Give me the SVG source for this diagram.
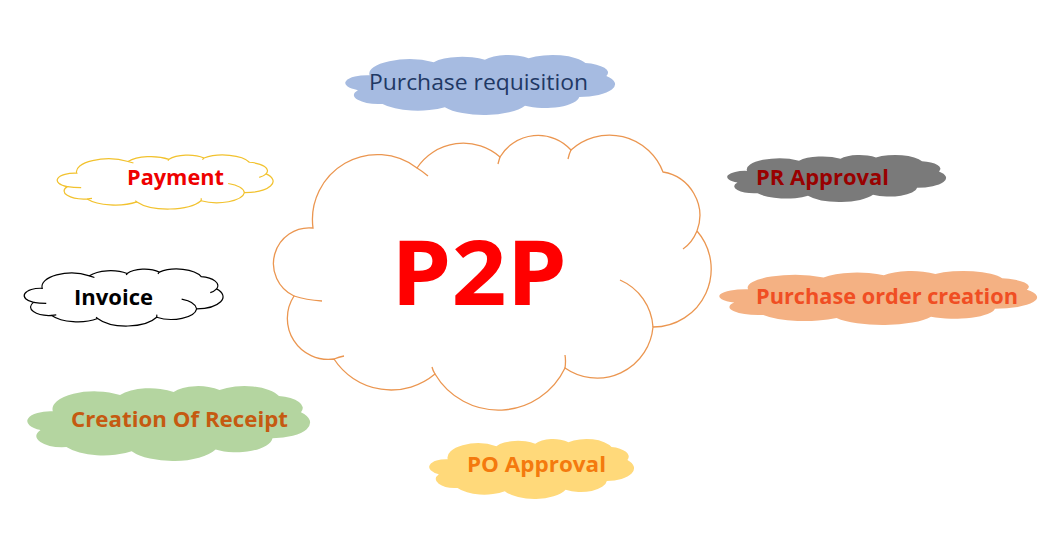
<svg xmlns="http://www.w3.org/2000/svg" xmlns:xlink="http://www.w3.org/1999/xlink" width="1048" height="548" viewBox="0 0 1048 548">
<style>
.lbl{font-family:"Open Sans","Liberation Sans",sans-serif;font-weight:bold;font-size:21.5px;text-anchor:middle}
.out{vector-effect:non-scaling-stroke}
</style>
<defs>
<path id="cloud" class="out" d="M313,228 A65,65 0 0 1 417,168 A55.6,55.6 0 0 1 500,157 A44.3,44.3 0 0 1 571,150 A57.2,57.2 0 0 1 663,172 A44.2,44.2 0 0 1 697,231 A58,58 0 0 1 653,327 A56.1,56.1 0 0 1 565,368 A73.7,73.7 0 0 1 435,374 A68.2,68.2 0 0 1 334,359 A41,41 0 0 1 294,296 A35.8,35.8 0 0 1 313,228 Z"/>
<path id="decor" class="out" fill="none" d="M294,296 Q306,300 322,301 M334,359 Q339,357 344,356 M435,374 Q433,371 432,367 M565,368 Q566,361 565,355 M620,280 A55,55 0 0 1 653,327 M697,231 Q692,243 683,249 M571,150 Q569,154 568,159 M500,157 Q499,160 498,164 M417,168 Q422,171 428,176"/>
</defs>
<rect width="1048" height="548" fill="#ffffff"/>
<g id="p2p">
<use xlink:href="#cloud" fill="#ffffff" stroke="#EB9650" stroke-width="1.3"/>
<use xlink:href="#decor" stroke="#EB9650" stroke-width="1.3"/>
<text x="479" y="305" font-family="Open Sans, Liberation Sans, sans-serif" font-weight="bold" font-size="89" fill="#FF0000" text-anchor="middle" textLength="176" lengthAdjust="spacingAndGlyphs">P2P</text>
</g>
<g id="purchase-requisition">
<use xlink:href="#cloud" fill="#A6BBE1" transform="translate(345,55) scale(0.6164,0.2182) translate(-273,-135)"/>
<text x="478.5" y="90" font-family="Open Sans, Liberation Sans, sans-serif" font-size="21.5" fill="#1F3864" text-anchor="middle" textLength="219" lengthAdjust="spacingAndGlyphs">Purchase requisition</text>
</g>
<g id="pr-approval">
<use xlink:href="#cloud" fill="#7A7A7A" transform="translate(727,155) scale(0.5,0.1709) translate(-273,-135)"/>
<text class="lbl" x="822.5" y="185" fill="#990000" textLength="133" lengthAdjust="spacingAndGlyphs">PR Approval</text>
</g>
<g id="purchase-order-creation">
<use xlink:href="#cloud" fill="#F4B183" transform="translate(719,271) scale(0.726,0.1964) translate(-273,-135)"/>
<text class="lbl" x="887" y="304" fill="#F04E23" textLength="262" lengthAdjust="spacingAndGlyphs">Purchase order creation</text>
</g>
<g id="po-approval">
<use xlink:href="#cloud" fill="#FFD97A" transform="translate(429,439) scale(0.468,0.2182) translate(-273,-135)"/>
<text class="lbl" x="536.5" y="472" fill="#F47A0E" textLength="139" lengthAdjust="spacingAndGlyphs">PO Approval</text>
</g>
<g id="creation-of-receipt">
<use xlink:href="#cloud" fill="#B4D5A0" transform="translate(27,386) scale(0.6461,0.2727) translate(-273,-135)"/>
<text class="lbl" x="179.5" y="427" fill="#C55A11" textLength="217" lengthAdjust="spacingAndGlyphs">Creation Of Receipt</text>
</g>
<g id="invoice">
<use xlink:href="#cloud" fill="#ffffff" stroke="#000000" stroke-width="1.2" transform="translate(24,269) scale(0.4543,0.2073) translate(-273,-135)"/>
<use xlink:href="#decor" stroke="#000000" stroke-width="1.2" transform="translate(24,269) scale(0.4543,0.2073) translate(-273,-135)"/>
<text class="lbl" x="113.5" y="305" fill="#000000" textLength="79" lengthAdjust="spacingAndGlyphs">Invoice</text>
</g>
<g id="payment">
<use xlink:href="#cloud" fill="#ffffff" stroke="#F2C22E" stroke-width="1.2" transform="translate(57,155) scale(0.4932,0.1964) translate(-273,-135)"/>
<use xlink:href="#decor" stroke="#F2C22E" stroke-width="1.2" transform="translate(57,155) scale(0.4932,0.1964) translate(-273,-135)"/>
<text class="lbl" x="175.5" y="185" fill="#EE0000" textLength="97" lengthAdjust="spacingAndGlyphs">Payment</text>
</g>
</svg>
